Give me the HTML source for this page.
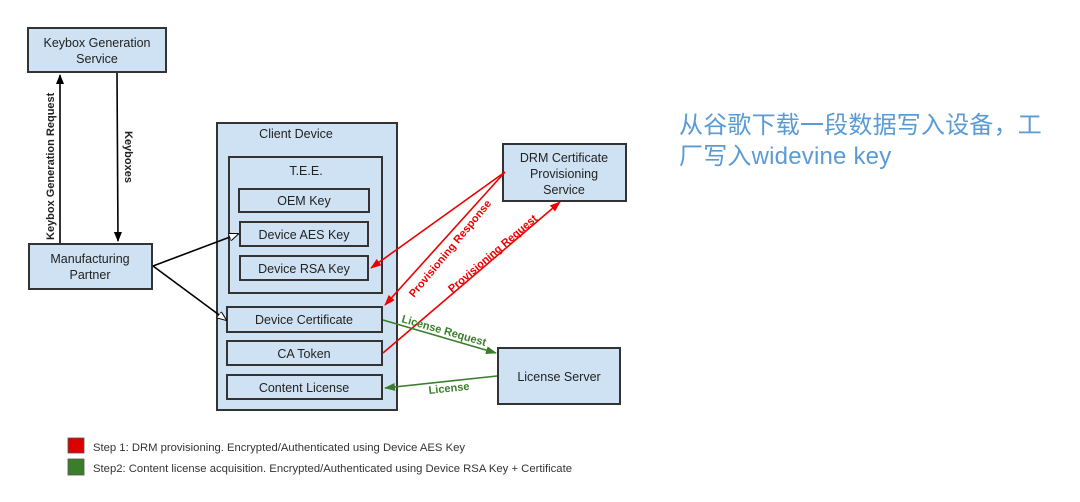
<!DOCTYPE html>
<html><head><meta charset="utf-8"><style>
body{margin:0;background:#fff;width:1080px;height:502px;overflow:hidden;position:relative;font-family:"Liberation Sans",Arial,sans-serif}
.cn{position:absolute;left:679px;top:110px;font-family:"Liberation Sans","Noto Sans CJK SC",sans-serif;font-size:24px;line-height:31px;color:#5b9bd5;letter-spacing:0.2px}
</style></head><body>
<svg width="1080" height="502" style="position:absolute;left:0;top:0" font-family="Liberation Sans, Arial, sans-serif">
<defs>
<marker id="ab" markerWidth="10" markerHeight="8" refX="9" refY="4" orient="auto" markerUnits="userSpaceOnUse"><path d="M0,0 L10,4 L0,8z" fill="#000"/></marker>
<marker id="ao" markerWidth="10" markerHeight="8" refX="9" refY="4" orient="auto" markerUnits="userSpaceOnUse"><path d="M0,0 L10,4 L0,8z" fill="#fff" stroke="#000" stroke-width="1"/></marker>
<marker id="ar" markerWidth="11" markerHeight="8" refX="10" refY="4" orient="auto" markerUnits="userSpaceOnUse"><path d="M0,0 L11,4 L0,8z" fill="#e00"/></marker>
<marker id="ag" markerWidth="11" markerHeight="8" refX="10" refY="4" orient="auto" markerUnits="userSpaceOnUse"><path d="M0,0 L11,4 L0,8z" fill="#3a7d2a"/></marker>
</defs>
<g fill="#cfe2f3" stroke="#333" stroke-width="2">
<rect x="28" y="28" width="138" height="44"/>
<rect x="29" y="244" width="123" height="45"/>
<rect x="217" y="123" width="180" height="287"/>
<rect x="229" y="157" width="153" height="136"/>
<rect x="239" y="189" width="130" height="23"/>
<rect x="240" y="222" width="128" height="24"/>
<rect x="240" y="256" width="128" height="24"/>
<rect x="227" y="307" width="155" height="25"/>
<rect x="227" y="341" width="155" height="24"/>
<rect x="227" y="375" width="155" height="24"/>
<rect x="503" y="144" width="123" height="57"/>
<rect x="498" y="348" width="122" height="56"/>
</g>
<g font-size="12.5" fill="#222" text-anchor="middle">
<text x="97" y="47">Keybox Generation</text><text x="97" y="63">Service</text>
<text x="90" y="263">Manufacturing</text><text x="90" y="279">Partner</text>
<text x="296" y="138">Client Device</text>
<text x="306" y="175">T.E.E.</text>
<text x="304" y="205">OEM Key</text>
<text x="304" y="239">Device AES Key</text>
<text x="304" y="273">Device RSA Key</text>
<text x="304" y="324">Device Certificate</text>
<text x="304" y="358">CA Token</text>
<text x="304" y="392">Content License</text>
<text x="564" y="162">DRM Certificate</text><text x="564" y="178">Provisioning</text><text x="564" y="194">Service</text>
<text x="559" y="381">License Server</text>
</g>
<g stroke="#000" stroke-width="1.6" fill="none">
<line x1="60" y1="243" x2="60" y2="75" marker-end="url(#ab)"/>
<line x1="117" y1="73" x2="118" y2="241" marker-end="url(#ab)"/>
<line x1="153" y1="266" x2="238" y2="234" marker-end="url(#ao)"/>
<line x1="153" y1="266" x2="226" y2="320" marker-end="url(#ao)"/>
</g>
<text transform="translate(54,240) rotate(-90)" font-size="11" font-weight="bold" fill="#222">Keybox Generation Request</text>
<text transform="translate(125,131) rotate(90)" font-size="11" font-weight="bold" fill="#222">Keyboxes</text>
<g stroke="#e00" stroke-width="1.6" fill="none">
<line x1="505" y1="172" x2="371" y2="268" marker-end="url(#ar)"/>
<line x1="505" y1="172" x2="385" y2="305" marker-end="url(#ar)"/>
<line x1="383" y1="353" x2="560" y2="202" marker-end="url(#ar)"/>
</g>
<text transform="translate(414,298) rotate(-50.5)" font-size="11" font-weight="bold" fill="#e00">Provisioning Response</text>
<text transform="translate(452,293) rotate(-40.5)" font-size="11" font-weight="bold" fill="#e00">Provisioning Request</text>
<g stroke="#3a7d2a" stroke-width="1.6" fill="none">
<line x1="383" y1="320" x2="496" y2="353" marker-end="url(#ag)"/>
<line x1="497" y1="376" x2="385" y2="388" marker-end="url(#ag)"/>
</g>
<text transform="translate(401,322) rotate(16)" font-size="11" font-weight="bold" fill="#3a7d2a">License Request</text>
<text transform="translate(429,394) rotate(-6)" font-size="11" font-weight="bold" fill="#3a7d2a">License</text>
<rect x="68" y="438" width="16" height="15" fill="#d00" stroke="#555" stroke-width="0.8"/>
<rect x="68" y="459" width="16" height="16" fill="#3a7d2a" stroke="#555" stroke-width="0.8"/>
<text x="93" y="451" font-size="11" fill="#333" textLength="372" lengthAdjust="spacingAndGlyphs">Step 1: DRM provisioning. Encrypted/Authenticated using Device AES Key</text>
<text x="93" y="472" font-size="11" fill="#333" textLength="479" lengthAdjust="spacingAndGlyphs">Step2: Content license acquisition. Encrypted/Authenticated using Device RSA Key + Certificate</text>
</svg>
<div class="cn">从谷歌下载一段数据写入设备，工<br>厂写入widevine key</div>
</body></html>
